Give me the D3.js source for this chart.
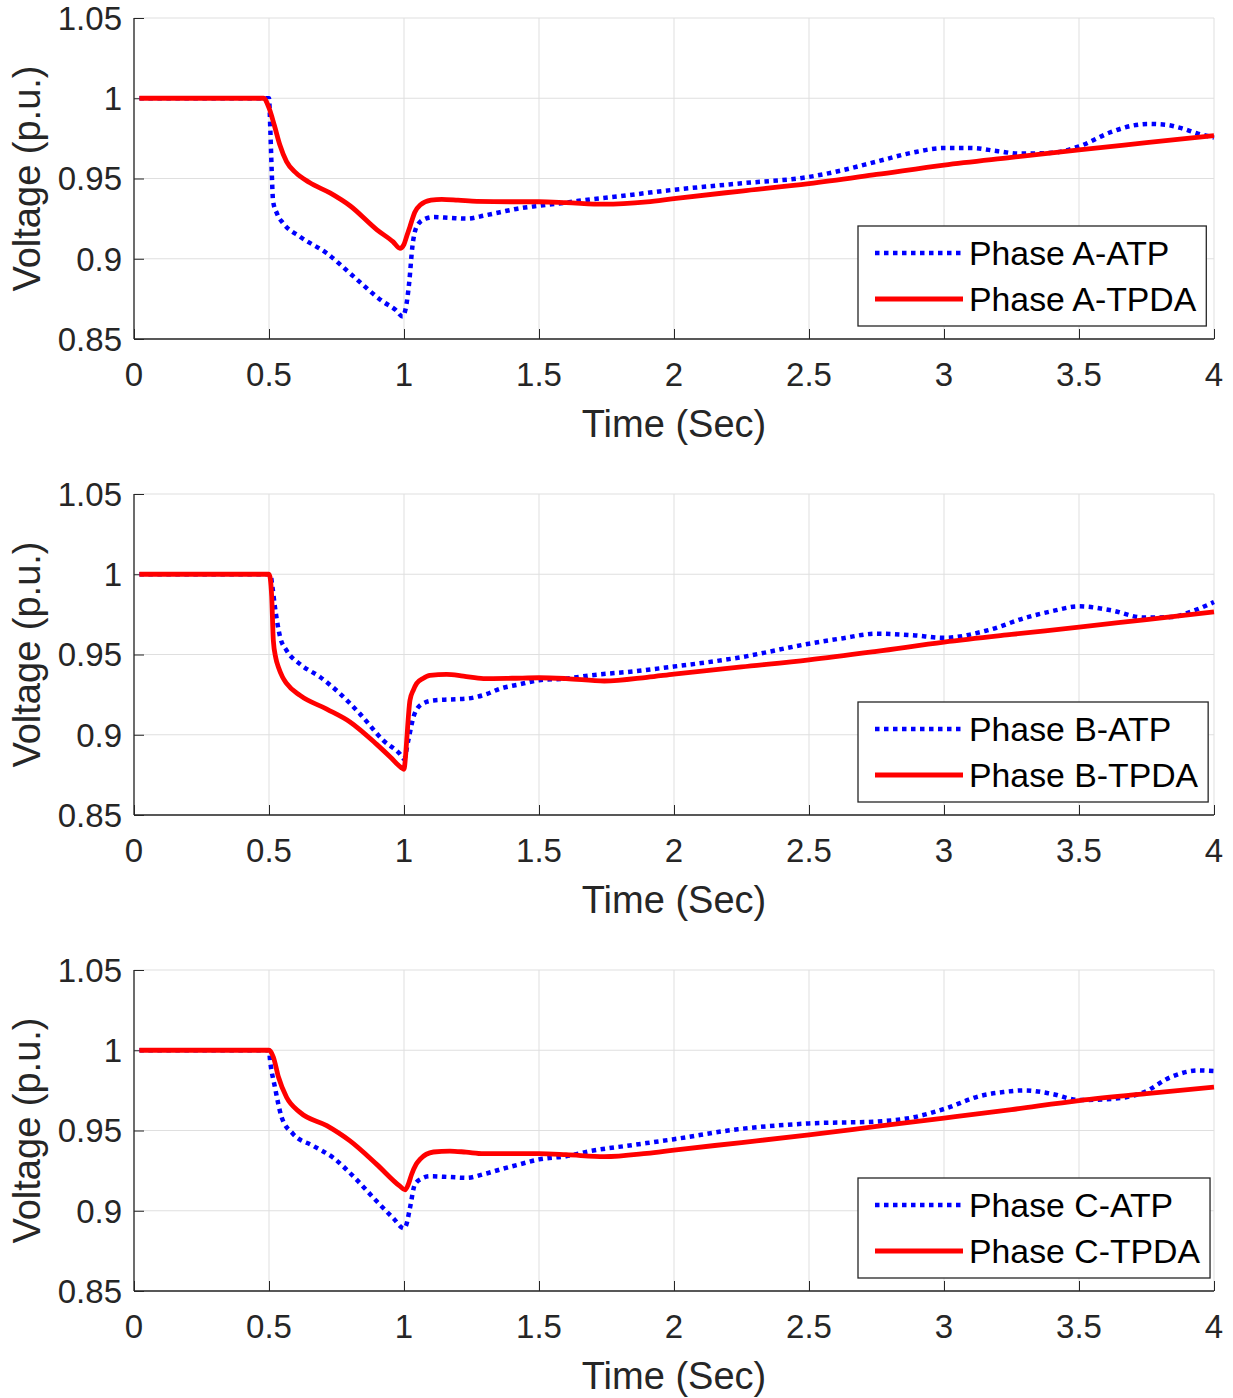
<!DOCTYPE html>
<html>
<head>
<meta charset="utf-8">
<script src="https://cdn.jsdelivr.net/npm/d3@7"></script>
<style>
  body { margin: 0; background: #fff; }
  svg { display: block; font-family: "Liberation Sans", Arial, sans-serif; }
</style>
</head>
<body>
<svg id="chart" width="1233" height="1398"></svg>
<script>
// ---- data ----
const xTicks = [0, 0.5, 1, 1.5, 2, 2.5, 3, 3.5, 4]
const yTicks = [0.85, 0.9, 0.95, 1, 1.05]
const yTickLabels = ['0.85', '0.9', '0.95', '1', '1.05']

// Phase A
const tA_ATP = [0.02, 0.5, 0.505, 0.51, 0.515, 0.53, 0.553, 0.615, 0.714, 0.813, 0.923, 0.97, 0.995, 1.005, 1.019, 1.031, 1.05, 1.08, 1.11, 1.17, 1.232, 1.3, 1.356, 1.43, 1.5, 1.6, 1.69, 1.8, 2.0, 2.25, 2.5, 2.62, 2.75, 2.88, 3.0, 3.1, 3.2, 3.28, 3.4, 3.5, 3.62, 3.7, 3.755, 3.82, 3.875, 3.94, 4.0]
const vA_ATP = [1.0, 1.0, 0.98, 0.955, 0.936, 0.928, 0.922, 0.9137, 0.9034, 0.889, 0.8732, 0.868, 0.864, 0.868, 0.8847, 0.9075, 0.921, 0.925, 0.926, 0.9255, 0.925, 0.927, 0.929, 0.9315, 0.933, 0.935, 0.937, 0.939, 0.943, 0.947, 0.951, 0.955, 0.9605, 0.966, 0.969, 0.969, 0.967, 0.9655, 0.966, 0.970, 0.979, 0.983, 0.984, 0.9835, 0.9815, 0.978, 0.9755]
const tA_TPDA = [0.02, 0.48, 0.5, 0.52, 0.54, 0.565, 0.6, 0.65, 0.726, 0.8, 0.9, 0.96, 0.985, 1.0, 1.01, 1.022, 1.04, 1.06, 1.1, 1.14, 1.2, 1.27, 1.4, 1.5, 1.6, 1.74, 1.9, 2.0, 2.25, 2.5, 2.75, 3.0, 3.25, 3.5, 3.75, 4.0]
const vA_TPDA = [1.0, 1.0, 0.994, 0.983, 0.971, 0.9605, 0.9535, 0.9475, 0.941, 0.933, 0.918, 0.9105, 0.9065, 0.909, 0.914, 0.920, 0.929, 0.9335, 0.9365, 0.937, 0.9365, 0.9358, 0.9355, 0.9355, 0.935, 0.934, 0.9355, 0.9375, 0.9422, 0.9468, 0.9525, 0.9584, 0.9632, 0.9679, 0.9723, 0.9767]

// Phase B
const tB_ATP = [0.02, 0.505, 0.512, 0.522, 0.541, 0.565, 0.615, 0.689, 0.763, 0.837, 0.923, 0.985, 1.0, 1.016, 1.035, 1.065, 1.109, 1.17, 1.232, 1.3, 1.356, 1.43, 1.5, 1.6, 1.69, 1.85, 2.0, 2.237, 2.5, 2.62, 2.75, 2.886, 3.0, 3.16, 3.31, 3.4, 3.5, 3.62, 3.74, 3.84, 3.92, 4.0]
const vB_ATP = [1.0, 1.0, 0.993, 0.9796, 0.961, 0.9526, 0.944, 0.936, 0.9256, 0.913, 0.8965, 0.888, 0.885, 0.8965, 0.911, 0.919, 0.9214, 0.922, 0.9225, 0.925, 0.9287, 0.9315, 0.934, 0.935, 0.937, 0.9395, 0.9425, 0.948, 0.9567, 0.960, 0.963, 0.962, 0.9604, 0.965, 0.9733, 0.977, 0.980, 0.9775, 0.973, 0.9733, 0.977, 0.9827]
const tB_TPDA = [0.02, 0.5, 0.505, 0.51, 0.516, 0.525, 0.535, 0.55, 0.565, 0.615, 0.714, 0.8, 0.899, 0.95, 0.99, 1.0, 1.005, 1.01, 1.022, 1.035, 1.047, 1.07, 1.096, 1.158, 1.22, 1.294, 1.4, 1.5, 1.6, 1.742, 1.9, 2.0, 2.25, 2.5, 2.75, 3.0, 3.25, 3.5, 3.75, 4.0]
const vB_TPDA = [1.0, 1.0, 0.997, 0.986, 0.9588, 0.948, 0.942, 0.936, 0.932, 0.9245, 0.916, 0.908, 0.894, 0.886, 0.8795, 0.8785, 0.885, 0.8965, 0.9214, 0.928, 0.932, 0.935, 0.937, 0.9376, 0.9365, 0.935, 0.9352, 0.9355, 0.935, 0.9335, 0.9358, 0.9378, 0.9423, 0.9467, 0.952, 0.9577, 0.9625, 0.967, 0.9718, 0.9765]

// Phase C
const tC_ATP = [0.02, 0.5, 0.504, 0.522, 0.547, 0.59, 0.664, 0.738, 0.812, 0.899, 0.96, 1.0, 1.008, 1.022, 1.04, 1.065, 1.096, 1.17, 1.232, 1.3, 1.356, 1.43, 1.5, 1.6, 1.69, 1.85, 2.0, 2.237, 2.5, 2.75, 2.886, 3.0, 3.14, 3.22, 3.3, 3.4, 3.5, 3.62, 3.74, 3.84, 3.94, 4.0]
const vC_ATP = [1.0, 1.0, 0.9937, 0.977, 0.9582, 0.9477, 0.9404, 0.933, 0.9215, 0.9059, 0.8954, 0.889, 0.891, 0.9017, 0.9163, 0.920, 0.9215, 0.921, 0.9205, 0.923, 0.9257, 0.929, 0.932, 0.934, 0.9372, 0.941, 0.9446, 0.9508, 0.9544, 0.9556, 0.9582, 0.9634, 0.9718, 0.974, 0.975, 0.9728, 0.969, 0.9697, 0.9738, 0.9833, 0.9874, 0.987]
const tC_TPDA = [0.02, 0.5, 0.516, 0.535, 0.565, 0.615, 0.714, 0.8, 0.899, 0.985, 1.004, 1.015, 1.028, 1.045, 1.059, 1.109, 1.17, 1.23, 1.294, 1.5, 1.6, 1.742, 1.9, 2.0, 2.25, 2.5, 2.75, 3.0, 3.25, 3.5, 3.75, 4.0]
const vC_TPDA = [1.0, 1.0, 0.9958, 0.9833, 0.9707, 0.9613, 0.953, 0.9435, 0.9289, 0.9153, 0.913, 0.916, 0.9226, 0.929, 0.932, 0.9366, 0.9372, 0.9365, 0.9356, 0.9356, 0.935, 0.9337, 0.9358, 0.9378, 0.9425, 0.9473, 0.9525, 0.9577, 0.963, 0.9686, 0.973, 0.977]

const panels = [
  { atp: [tA_ATP, vA_ATP], tpda: [tA_TPDA, vA_TPDA], names: ['Phase A-ATP', 'Phase A-TPDA'] },
  { atp: [tB_ATP, vB_ATP], tpda: [tB_TPDA, vB_TPDA], names: ['Phase B-ATP', 'Phase B-TPDA'] },
  { atp: [tC_ATP, vC_ATP], tpda: [tC_TPDA, vC_TPDA], names: ['Phase C-ATP', 'Phase C-TPDA'] }
]

// ---- layout ----
const left = 134, right = 1214
const panelTop = 18, panelStep = 476, panelH = 321
const axisColor = '#262626'
const gridColor = '#dfdfdf'

const svg = d3.select('#chart')

const x = d3.scaleLinear().domain([0, 4]).range([left, right])

panels.forEach((p, i) => {
  const top = panelTop + i * panelStep
  const bottom = top + panelH
  const y = d3.scaleLinear().domain([0.85, 1.05]).range([bottom, top])
  const g = svg.append('g')

  // grid
  g.append('g').selectAll('line').data(xTicks).join('line')
    .attr('x1', d => x(d)).attr('x2', d => x(d))
    .attr('y1', top).attr('y2', bottom)
    .attr('stroke', gridColor).attr('stroke-width', 1)
  g.append('g').selectAll('line').data(yTicks).join('line')
    .attr('x1', left).attr('x2', right)
    .attr('y1', d => y(d)).attr('y2', d => y(d))
    .attr('stroke', gridColor).attr('stroke-width', 1)

  // axes (ticks pointing inward, matlab style)
  const xAxis = g.append('g')
    .attr('transform', `translate(0,${bottom})`)
    .call(d3.axisTop(x).tickValues(xTicks).tickSize(10).tickFormat(''))
  xAxis.select('.domain').attr('d', `M${left},0H${right}`)
  xAxis.selectAll('line').attr('stroke', axisColor)
  xAxis.selectAll('.domain').attr('stroke', axisColor).attr('stroke-width', 1.3)

  const yAxis = g.append('g')
    .attr('transform', `translate(${left},0)`)
    .call(d3.axisRight(y).tickValues(yTicks).tickSize(10).tickFormat(''))
  yAxis.select('.domain').attr('d', `M0,${top}V${bottom}`)
  yAxis.selectAll('line').attr('stroke', axisColor)
  yAxis.selectAll('.domain').attr('stroke', axisColor).attr('stroke-width', 1.3)

  // tick labels
  g.append('g').selectAll('text').data(xTicks).join('text')
    .attr('x', d => x(d)).attr('y', bottom + 47)
    .attr('text-anchor', 'middle')
    .attr('font-size', 33).attr('fill', axisColor)
    .text(d => d)
  g.append('g').selectAll('text').data(yTicks).join('text')
    .attr('x', left - 12).attr('y', d => y(d))
    .attr('dy', '0.36em')
    .attr('text-anchor', 'end')
    .attr('font-size', 33).attr('fill', axisColor)
    .text((d, k) => yTickLabels[k])

  // axis titles
  g.append('text')
    .attr('x', (left + right) / 2).attr('y', bottom + 98)
    .attr('text-anchor', 'middle')
    .attr('font-size', 38).attr('fill', axisColor)
    .text('Time (Sec)')
  g.append('text')
    .attr('transform', `translate(40,${(top + bottom) / 2}) rotate(-90)`)
    .attr('text-anchor', 'middle')
    .attr('font-size', 38).attr('fill', axisColor)
    .text('Voltage (p.u.)')

  // lines
  const line = d3.line()
    .x(d => x(d[0]))
    .y(d => y(d[1]))
    .curve(d3.curveMonotoneX)

  const atpData = p.atp[0].map((t, k) => [t, p.atp[1][k]])
  const tpdaData = p.tpda[0].map((t, k) => [t, p.tpda[1][k]])

  g.append('path').datum(atpData)
    .attr('d', line)
    .attr('fill', 'none')
    .attr('stroke', '#0000ff')
    .attr('stroke-width', 4.5)
    .attr('stroke-dasharray', '4.5,4.5')

  g.append('path').datum(tpdaData)
    .attr('d', line)
    .attr('fill', 'none')
    .attr('stroke', '#ff0000')
    .attr('stroke-width', 4.8)
    .attr('stroke-linejoin', 'round')

  // legend
  const lx = 858, ly = top + 208
  const legend = g.append('g')
  const box = legend.append('rect')
    .attr('x', lx).attr('y', ly).attr('height', 100)
    .attr('fill', '#fff').attr('stroke', axisColor).attr('stroke-width', 1.3)
  const rows = [
    { name: p.names[0], color: '#0000ff', dash: '4.5,4.5', w: 4.5 },
    { name: p.names[1], color: '#ff0000', dash: null, w: 4.8 }
  ]
  let maxW = 0
  rows.forEach((r, k) => {
    const cy = ly + 27 + k * 46
    legend.append('line')
      .attr('x1', lx + 17).attr('x2', lx + 105)
      .attr('y1', cy).attr('y2', cy)
      .attr('stroke', r.color).attr('stroke-width', r.w)
      .attr('stroke-dasharray', r.dash)
    const t = legend.append('text')
      .attr('x', lx + 111).attr('y', cy + 12)
      .attr('font-size', 33.8).attr('fill', '#000')
      .text(r.name)
    maxW = Math.max(maxW, t.node().getComputedTextLength())
  })
  box.attr('width', 111 + maxW + 10)
})
</script>
</body>
</html>
